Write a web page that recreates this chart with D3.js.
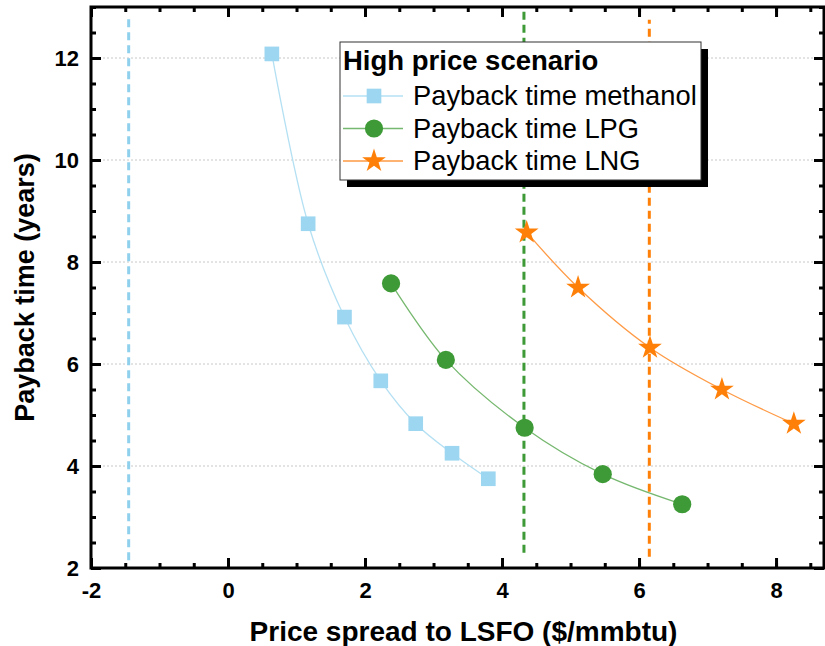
<!DOCTYPE html>
<html>
<head>
<meta charset="utf-8">
<script src="https://cdn.jsdelivr.net/npm/d3@7"></script>
<style>
  body { margin: 0; background: #fff; }
  svg { display: block; font-family: "Liberation Sans", Arial, sans-serif; }
</style>
</head>
<body>
<svg id="chart" width="825" height="646"></svg>
<script>
// ---- Data ----
const methanolX = [0.64, 1.17, 1.70, 2.23, 2.74, 3.27, 3.80];
const methanolY = [12.08, 8.75, 6.92, 5.67, 4.83, 4.25, 3.75];
const lpgX = [2.38, 3.18, 4.33, 5.47, 6.63];
const lpgY = [7.58, 6.08, 4.75, 3.84, 3.25];
const lngX = [4.36, 5.11, 6.16, 7.21, 8.26];
const lngY = [8.58, 7.50, 6.32, 5.50, 4.83];
const refLineX = [-1.45, 4.32, 6.15];
const refLineY0 = [2.15, 2.3, 2.22];
const refLineY1 = [12.85, 12.95, 12.75];
const xTicks = [-2, 0, 2, 4, 6, 8];
const yTicks = [2, 4, 6, 8, 10, 12];
const seriesNames = ["Payback time methanol", "Payback time LPG", "Payback time LNG"];
const legendTitle = "High price scenario";
const xTitle = "Price spread to LSFO ($/mmbtu)";
const yTitle = "Payback time (years)";

const colors = {marker: ["#9dd6f0", "#3d9a36", "#ff8008"], line: ["#b4e0f3", "#76b86f", "#ff9a45"]};

const svg = d3.select("#chart");
const L = 91, R = 824, T = 7, B = 568;
const x = d3.scaleLinear().domain([-2, 8.7]).range([L, R]);
const y = d3.scaleLinear().domain([2, 13]).range([B, T]);

// gridlines
svg.append("g").selectAll("line").data(yTicks.filter(d => d > 2)).join("line")
  .attr("x1", L).attr("x2", R).attr("y1", d => y(d)).attr("y2", d => y(d))
  .attr("stroke", "#c8c8c8").attr("stroke-width", 1).attr("stroke-dasharray", "2,2");

// reference dashed lines
refLineX.forEach((v, i) => {
  svg.append("line")
    .attr("x1", x(v)).attr("x2", x(v)).attr("y1", y(refLineY0[i])).attr("y2", y(refLineY1[i]))
    .attr("stroke", i === 0 ? "#8fd0ec" : colors.marker[i]).attr("stroke-width", 3)
    .attr("stroke-dasharray", "8,5");
});

// series
const series = [
  {xs: methanolX, ys: methanolY, sym: d3.symbolSquare, size: 215},
  {xs: lpgX, ys: lpgY, sym: d3.symbolCircle, size: 260},
  {xs: lngX, ys: lngY, sym: d3.symbolStar, size: 175}
];
const line = d3.line().x(d => x(d[0])).y(d => y(d[1])).curve(d3.curveCatmullRom.alpha(0.5));
series.forEach((s, i) => {
  const pts = s.xs.map((v, j) => [v, s.ys[j]]);
  svg.append("path").attr("d", line(pts)).attr("fill", "none")
    .attr("stroke", colors.line[i]).attr("stroke-width", 1.3);
});
series.forEach((s, i) => {
  const pts = s.xs.map((v, j) => [v, s.ys[j]]);
  svg.append("g").selectAll("path").data(pts).join("path")
    .attr("d", d3.symbol().type(s.sym).size(s.size))
    .attr("transform", d => `translate(${x(d[0])},${y(d[1])})`)
    .attr("fill", colors.marker[i]);
});

// axes
const xMinor = d3.range(-2, 8.71, 0.5);
const yMinor = d3.range(2, 13.01, 0.5);
const fmt = d => String(d);
function axisG(axisFn, scale, ticks, minor, transform, labels) {
  const gMinor = svg.append("g").attr("transform", transform)
    .call(axisFn(scale).tickValues(minor).tickSize(-5).tickFormat(""));
  const g = svg.append("g").attr("transform", transform)
    .call(axisFn(scale).tickValues(ticks).tickSize(-10).tickPadding(0).tickFormat(labels ? fmt : ""));
  [gMinor, g].forEach(gg => {
    gg.select(".domain").remove();
    gg.selectAll(".tick line").attr("stroke", "#000").attr("stroke-width", 3);
  });
  g.selectAll("text").attr("font-size", 22).attr("font-weight", "bold").attr("fill", "#000")
    .attr("font-family", "'Liberation Sans', Arial, sans-serif");
  return g;
}
const gx = axisG(d3.axisBottom, x, xTicks, xMinor, `translate(0,${B})`, true);
gx.selectAll("text").attr("y", 30).attr("dy", 0);
axisG(d3.axisTop, x, xTicks, xMinor, `translate(0,${T})`, false);
const gy = axisG(d3.axisLeft, y, yTicks, yMinor, `translate(${L},0)`, true);
gy.selectAll("text").attr("x", -12).attr("dy", "0.36em");
axisG(d3.axisRight, y, yTicks, yMinor, `translate(${R},0)`, false);

// frame
svg.append("rect").attr("x", L).attr("y", T).attr("width", R - L).attr("height", B - T)
  .attr("fill", "none").attr("stroke", "#000").attr("stroke-width", 3);

// axis titles
svg.append("text").attr("x", (L + R) / 2 + 6).attr("y", 641).attr("text-anchor", "middle")
  .attr("font-size", 28).attr("font-weight", "bold").text(xTitle);
svg.append("text").attr("transform", `translate(34,${(T + B) / 2}) rotate(-90)`)
  .attr("text-anchor", "middle").attr("font-size", 27).attr("font-weight", "bold").text(yTitle);

// legend
const lg = svg.append("g");
const lx = 340, ly = 42, lw = 361, lh = 138;
lg.append("rect").attr("x", lx + 7).attr("y", ly + 7).attr("width", lw).attr("height", lh).attr("fill", "#000");
lg.append("rect").attr("x", lx).attr("y", ly).attr("width", lw).attr("height", lh)
  .attr("fill", "#fff").attr("stroke", "#333").attr("stroke-width", 1);
lg.append("text").attr("x", lx + 3).attr("y", ly + 28).attr("font-size", 27.5).attr("font-weight", "bold").text(legendTitle);
seriesNames.forEach((name, i) => {
  const cy = ly + 54 + i * 32.5;
  lg.append("line").attr("x1", lx + 3).attr("x2", lx + 63).attr("y1", cy).attr("y2", cy)
    .attr("stroke", colors.line[i]).attr("stroke-width", 1.3);
  lg.append("path").attr("d", d3.symbol().type(series[i].sym).size(series[i].size))
    .attr("transform", `translate(${lx + 34},${cy})`).attr("fill", colors.marker[i]);
  lg.append("text").attr("x", lx + 73).attr("y", cy + 9).attr("font-size", 27.3).text(name);
});
</script>
</body>
</html>
